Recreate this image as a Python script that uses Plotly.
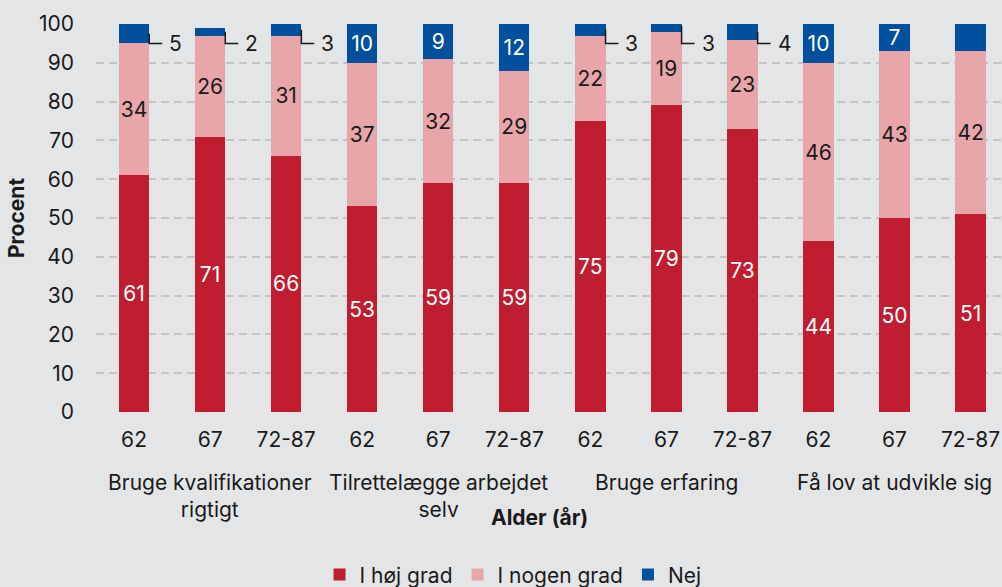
import plotly.graph_objects as go

# ages per bar, four groups of three
ages = ["62", "67", "72-87", "62", "67", "72-87", "62", "67", "72-87", "62", "67", "72-87"]
groups = [
    "Bruge kvalifikationer<br>rigtigt",
    "Tilrettelægge arbejdet<br>selv",
    "Bruge erfaring",
    "Få lov at udvikle sig",
]

hoej_grad = [61, 71, 66, 53, 59, 59, 75, 79, 73, 44, 50, 51]
nogen_grad = [34, 26, 31, 37, 32, 29, 22, 19, 23, 46, 43, 42]
nej = [5, 2, 3, 10, 9, 12, 3, 3, 4, 10, 7, 8]

RED = "#be1e2f"
PINK = "#e8a6ab"
BLUE = "#00509d"
BG = "#e4e5e7"
TXT = "#1a1a1a"
FONT = "Inter"
FS = 21

xs = list(range(len(ages)))
bar_w = 0.4
small = 5  # segments this small get an outside label

fig = go.Figure()
for name, vals, color, tcolor, hide_small in [
    ("I høj grad", hoej_grad, RED, "white", False),
    ("I nogen grad", nogen_grad, PINK, TXT, False),
    ("Nej", nej, BLUE, "white", True),
]:
    text = ["" if (hide_small and v <= small) else str(v) for v in vals]
    fig.add_trace(go.Bar(
        x=xs, y=vals, name=name, width=bar_w,
        marker=dict(color=color, line=dict(width=0)),
        text=text, textposition="inside", insidetextanchor="middle",
        textfont=dict(color=tcolor, size=FS, family=FONT),
        textangle=0, cliponaxis=False,
    ))

# elbow leader lines + labels for the tiny "Nej" segments
for i, v in enumerate(nej):
    if v > small:
        continue
    top = hoej_grad[i] + nogen_grad[i]
    mid = top + v / 2
    x0 = i + bar_w / 2
    fig.add_shape(
        type="path", xref="x", yref="y",
        path=f"M {x0},{mid} L {x0},95 L {x0 + 0.17},95",
        line=dict(color=TXT, width=1.5),
    )
    fig.add_annotation(
        x=x0 + 0.17, y=95, xref="x", yref="y", text=str(v),
        showarrow=False, xanchor="left", yanchor="middle", xshift=5,
        font=dict(size=FS, color=TXT, family=FONT),
    )

# group labels under the age ticks
for g, label in enumerate(groups):
    fig.add_annotation(
        x=g * 3 + 1, y=-0.145, xref="x", yref="paper", text=label,
        showarrow=False, xanchor="center", yanchor="top", align="center",
        font=dict(size=FS, color=TXT, family=FONT),
    )

fig.add_annotation(
    x=0.49, y=-0.271, xref="paper", yref="paper", text="<b>Alder (år)</b>",
    showarrow=False, xanchor="center", yanchor="middle",
    font=dict(size=FS, color=TXT, family=FONT),
)

fig.update_layout(
    barmode="stack",
    width=1002, height=587,
    margin=dict(l=96, r=1, t=24, b=175, autoexpand=False),
    paper_bgcolor=BG, plot_bgcolor=BG,
    font=dict(family=FONT, size=FS, color=TXT),
    uniformtext=dict(mode="show", minsize=FS),
    showlegend=True,
    legend=dict(
        orientation="h", xref="container", yref="paper",
        x=0.512, y=-0.42, xanchor="center", yanchor="middle",
        font=dict(size=FS, color=TXT, family=FONT),
        itemwidth=30, traceorder="normal",
    ),
    xaxis=dict(
        tickmode="array", tickvals=xs, ticktext=ages,
        range=[-0.5, 11.4], showgrid=False, zeroline=False,
        ticks="", ticklabelstandoff=13,
        tickfont=dict(size=FS, color=TXT),
    ),
    yaxis=dict(
        range=[0, 100], dtick=10, tick0=0,
        showgrid=True, gridcolor="#c3c4c6", gridwidth=1.5, griddash="8px,5px",
        zeroline=False, ticks="", ticklabelstandoff=21,
        tickfont=dict(size=FS, color=TXT),
        title=dict(text="<b>Procent</b>", font=dict(size=FS, color=TXT), standoff=8),
    ),
)

fig.write_html(
    "out.html",
    config={"displayModeBar": False},
    post_script="document.body.style.margin='0';",
)
